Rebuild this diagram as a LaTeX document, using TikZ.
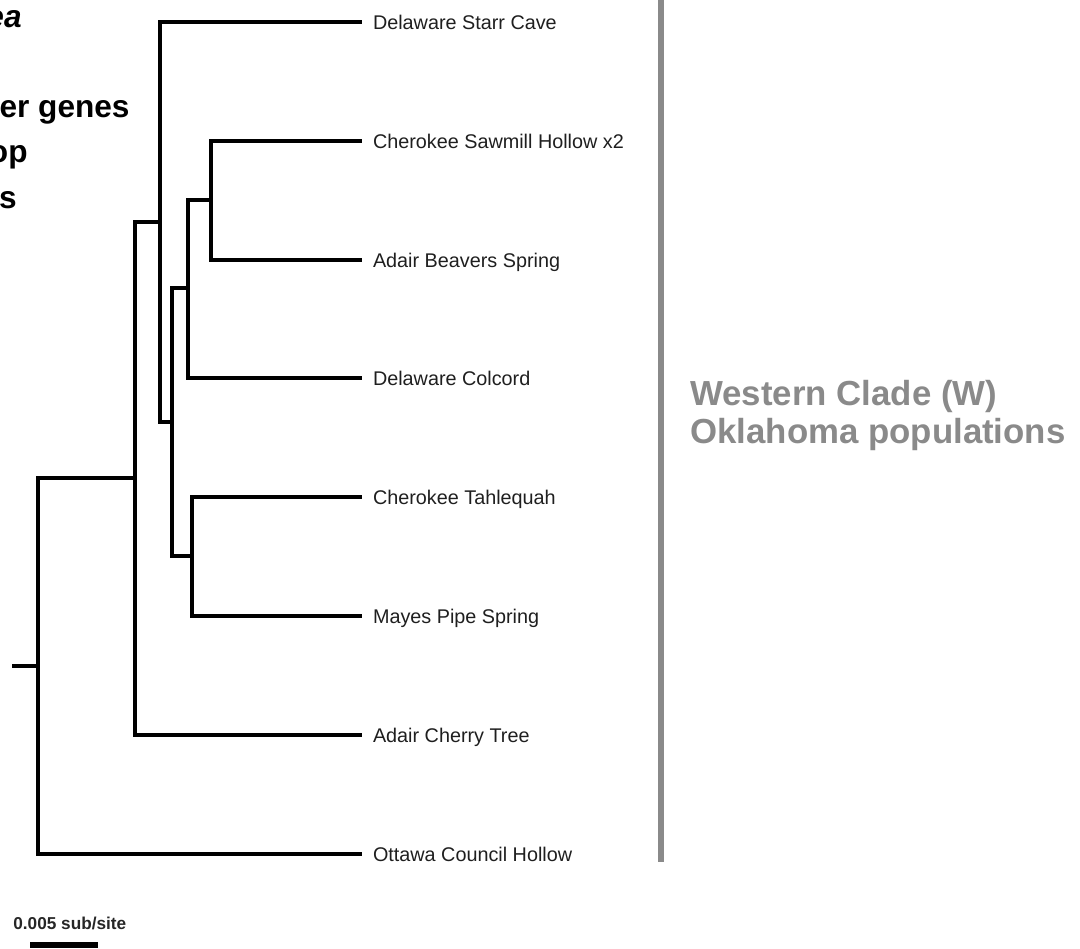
\documentclass[tikz,border=0pt]{standalone}
\usepackage{fontspec}
\setmainfont{Liberation Sans}
\usepackage{xcolor}
\usetikzlibrary{positioning}
\definecolor{cladegray}{HTML}{8A8A8A}

\begin{document}
\begin{tikzpicture}[x=0.5pt,y=-0.5pt,
        branch/.style={line width=2.3pt},
        taxon/.style={anchor=west, inner xsep=5.5pt, inner ysep=0pt, outer sep=0pt, text height=7.1pt, text depth=0pt, text=black!88, font=\fontsize{9.9}{12}\selectfont},
        cut/.style={anchor=base east, inner sep=0pt, font=\fontsize{15.8}{19}\selectfont\bfseries},
        clade/.style={anchor=base west, inner sep=0pt, text=cladegray, font=\fontsize{17.4}{19}\selectfont\bfseries}]
        \useasboundingbox (0,0) rectangle (1080,948);

        % Heading (cut off at the left edge)
        \node (hd1) [cut] at (22,27) {\itshape ea};
        \node (hd2) [cut] at (130,117) {er genes};
        \node (hd3) [cut] at (28,162) {op};
        \node (hd4) [cut] at (17,208) {s};

        % Internal nodes
        \coordinate (root) at (12,666);
        \coordinate (n1) at (38,666);
        \coordinate (n2) at (135,478);
        \coordinate (n3) at (160,222);
        \coordinate (n4) at (172,422);
        \coordinate (n5) at (188,288);
        \coordinate (n6) at (211,200);
        \coordinate (n7) at (192,556);

        % Taxa
        \node (starr) [taxon] at (362,22) {Delaware Starr Cave};
        \node (sawmill) [taxon] at (362,141) {Cherokee Sawmill Hollow x2};
        \node (beavers) [taxon] at (362,260) {Adair Beavers Spring};
        \node (colcord) [taxon] at (362,378) {Delaware Colcord};
        \node (tahlequah) [taxon] at (362,497) {Cherokee Tahlequah};
        \node (mayes) [taxon] at (362,616) {Mayes Pipe Spring};
        \node (cherry) [taxon] at (362,735) {Adair Cherry Tree};
        \node (ottawa) [taxon] at (362,854) {Ottawa Council Hollow};

        % Branches
        \draw[branch] (root) -- (n1);
        \draw[branch] (n1) |- (n2);
        \draw[branch] (n1) |- (ottawa);
        \draw[branch] (n2) |- (n3);
        \draw[branch] (n2) |- (cherry);
        \draw[branch] (n3) |- (starr);
        \draw[branch] (n3) |- (n4);
        \draw[branch] (n4) |- (n5);
        \draw[branch] (n4) |- (n7);
        \draw[branch] (n5) |- (n6);
        \draw[branch] (n5) |- (colcord);
        \draw[branch] (n6) |- (sawmill);
        \draw[branch] (n6) |- (beavers);
        \draw[branch] (n7) |- (tahlequah);
        \draw[branch] (n7) |- (mayes);

        % Clade bar and label
        \draw[line width=2.6pt, cladegray] (661,0) -- (661,862);
        \node (clade) [clade] at (690,405) {Western Clade (W)};
        \node (pops) [clade] at (690,443) {Oklahoma populations};

        % Scale bar
        \node (scale) [anchor=base west, inner sep=0pt, font=\fontsize{8.6}{10}\selectfont\bfseries, text=black!85] at (13,929) {0.005 sub/site};
        \draw[line width=3pt] (30,945) -- (98,945);

    \end{tikzpicture}
\end{document}
